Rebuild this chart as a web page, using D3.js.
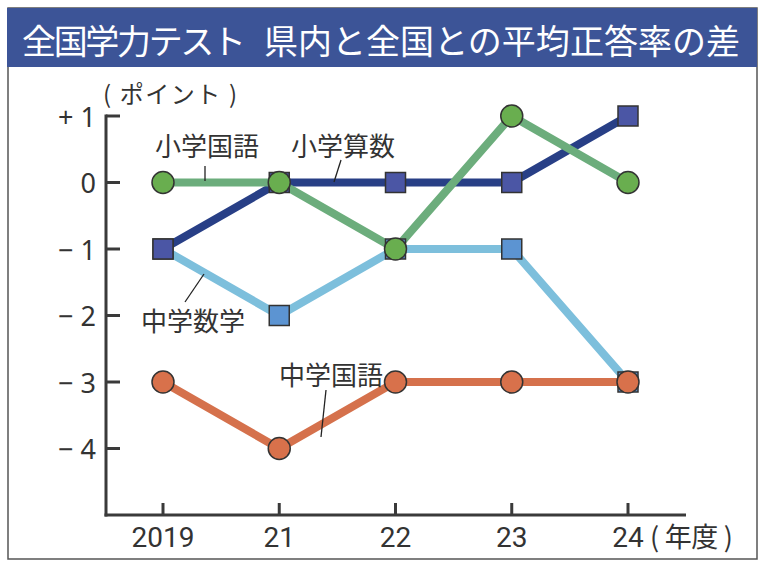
<!DOCTYPE html>
<html><head><meta charset="utf-8">
<script src="https://cdn.jsdelivr.net/npm/d3@7"></script>
<style>
html,body{margin:0;padding:0;background:#fff;}
svg{display:block;}
text{font-family:"Noto Sans CJK JP","Noto Sans",sans-serif;}
</style></head>
<body>
<script>
// ---- data ----
const titleA = "全国学力テスト";
const titleB = "県内と全国との平均正答率の差";
const years = ["2019", "21", "22", "23", "24"];
const yTicks = [1, 0, -1, -2, -3, -4];
const yTickLabels = ["+ 1", "0", "− 1", "− 2", "− 3", "− 4"];
const shoKokugo = [0, 0, -1, 1, 0];      // 小学国語
const shoSansu = [-1, 0, 0, 0, 1];       // 小学算数
const chuSugaku = [-1, -2, -1, -1, -3];  // 中学数学
const chuKokugo = [-3, -4, -3, -3, -3];  // 中学国語
const seriesNames = ["中学数学", "小学算数", "中学国語", "小学国語"];

const W = 763, H = 573;
const svg = d3.select("body").append("svg").attr("width", W).attr("height", H);

// frame & title bar
svg.append("rect").attr("x", 8).attr("y", 8).attr("width", 749).attr("height", 551)
  .attr("fill", "#fff").attr("stroke", "#555").attr("stroke-width", 1.5);
svg.append("rect").attr("x", 7).attr("y", 8).attr("width", 750).attr("height", 59)
  .attr("fill", "#3c5497");
svg.append("text").attr("x", 22).attr("y", 39).attr("dominant-baseline", "central")
  .attr("fill", "#fff").attr("font-size", 34).attr("textLength", 224).attr("lengthAdjust", "spacing").text(titleA);
svg.append("text").attr("x", 264).attr("y", 39).attr("dominant-baseline", "central")
  .attr("fill", "#fff").attr("font-size", 34).attr("textLength", 476).attr("lengthAdjust", "spacing").text(titleB);

const x = d3.scalePoint().domain(years).range([163, 628]);
const y = d3.scaleLinear().domain([-5, 1]).range([515, 116]);

const axisColor = "#3a3a3a", textColor = "#333";

// y axis
svg.append("line").attr("x1", 106).attr("x2", 106).attr("y1", y(1) - 1.5).attr("y2", y(-5) + 1.5)
  .attr("stroke", axisColor).attr("stroke-width", 3);
svg.selectAll(".yt").data(yTicks).enter().append("line")
  .attr("x1", 106).attr("x2", 120).attr("y1", d => y(d)).attr("y2", d => y(d))
  .attr("stroke", axisColor).attr("stroke-width", 3);
svg.selectAll(".yl").data(yTicks).enter().append("text")
  .attr("x", 96).attr("y", d => y(d)).attr("text-anchor", "end").attr("dominant-baseline", "central")
  .attr("font-size", 27).attr("fill", textColor)
  .style("font-family", "'Noto Sans','DejaVu Sans',sans-serif")
  .text((d, i) => yTickLabels[i]);
svg.append("text").attr("x", 103).attr("y", 92).attr("dominant-baseline", "central")
  .attr("font-size", 24).attr("fill", textColor).attr("textLength", 134).attr("lengthAdjust", "spacing")
  .text("( ポイント )");

// x axis
svg.append("line").attr("x1", 104.5).attr("x2", 686).attr("y1", 515).attr("y2", 515)
  .attr("stroke", axisColor).attr("stroke-width", 3);
svg.selectAll(".xt").data(years).enter().append("line")
  .attr("x1", d => x(d)).attr("x2", d => x(d)).attr("y1", 515).attr("y2", 503)
  .attr("stroke", axisColor).attr("stroke-width", 3);
svg.selectAll(".xl").data(years).enter().append("text")
  .attr("x", d => x(d)).attr("y", 537).attr("text-anchor", "middle").attr("dominant-baseline", "central")
  .attr("font-size", 28).attr("fill", textColor)
  .style("font-family", "'Liberation Sans Narrow','Roboto',sans-serif")
  .text(d => d);
svg.append("text").attr("x", 650).attr("y", 535).attr("dominant-baseline", "central")
  .attr("font-size", 27).attr("fill", textColor).attr("textLength", 83).attr("lengthAdjust", "spacing")
  .text("( 年度 )");

// series
const series = [
  {name: seriesNames[0], vals: chuSugaku, line: "#7dbfdc", fill: "#5c94d2", shape: "square"},
  {name: seriesNames[1], vals: shoSansu, line: "#283f86", fill: "#4b56a5", shape: "square"},
  {name: seriesNames[2], vals: chuKokugo, line: "#d5714c", fill: "#d8714b", shape: "circle"},
  {name: seriesNames[3], vals: shoKokugo, line: "#6cad7c", fill: "#69ae4f", shape: "circle"}
];
const lineGen = d3.line().x((d, i) => x(years[i])).y(d => y(d));
series.forEach(s => {
  svg.append("path").attr("d", lineGen(s.vals)).attr("fill", "none")
    .attr("stroke", s.line).attr("stroke-width", 8).attr("stroke-linejoin", "round");
});
series.forEach(s => {
  const g = svg.append("g");
  if (s.shape === "square") {
    g.selectAll("rect").data(s.vals).enter().append("rect")
      .attr("x", (d, i) => x(years[i]) - 10).attr("y", d => y(d) - 10)
      .attr("width", 20).attr("height", 20)
      .attr("fill", s.fill).attr("stroke", "#333").attr("stroke-width", 1.5);
  } else {
    g.selectAll("circle").data(s.vals).enter().append("circle")
      .attr("cx", (d, i) => x(years[i])).attr("cy", d => y(d)).attr("r", 11)
      .attr("fill", s.fill).attr("stroke", "#333").attr("stroke-width", 1.5);
  }
});

// labels with leader lines
const labels = [
  {t: "小学国語", tx: 155, ty: 144, l: [[205, 166], [205, 181]]},
  {t: "小学算数", tx: 291, ty: 144, l: [[341, 160], [334, 182]]},
  {t: "中学数学", tx: 141, ty: 319, l: [[185, 302], [204, 274]]},
  {t: "中学国語", tx: 279, ty: 373, l: [[326, 390], [321, 437]]}
];
labels.forEach(o => {
  svg.append("line").attr("x1", o.l[0][0]).attr("y1", o.l[0][1]).attr("x2", o.l[1][0]).attr("y2", o.l[1][1])
    .attr("stroke", "#222").attr("stroke-width", 1.3);
  svg.append("text").attr("x", o.tx).attr("y", o.ty).attr("dominant-baseline", "central")
    .attr("font-size", 26).attr("fill", textColor).text(o.t);
});
</script>
</body></html>
